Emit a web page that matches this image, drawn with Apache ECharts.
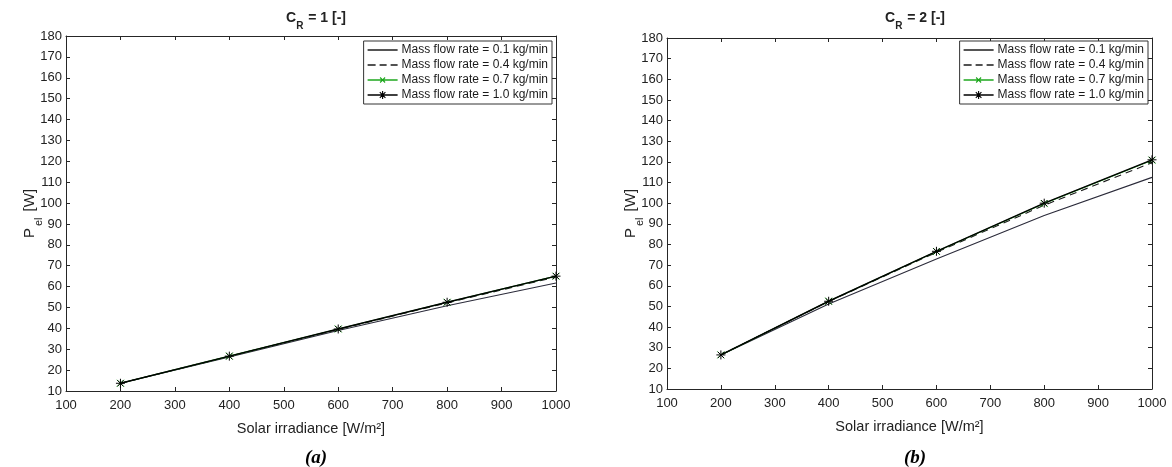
<!DOCTYPE html>
<html>
<head>
<meta charset="utf-8">
<script src="https://cdn.jsdelivr.net/npm/echarts@6/dist/echarts.min.js"></script>
<style>
html,body{margin:0;padding:0;background:#fff;}
#c{width:1172px;height:467px;}
</style>
</head>
<body>
<div id="c"></div>
<script>
// ---- data ----
const irradiance = [200, 400, 600, 800, 1000];
const seriesNames = ['Mass flow rate = 0.1 kg/min', 'Mass flow rate = 0.4 kg/min', 'Mass flow rate = 0.7 kg/min', 'Mass flow rate = 1.0 kg/min'];
// Panel (a): C_R = 1
const a_m01 = [13.7, 26.3, 39.0, 50.8, 61.7];
const a_m04 = [13.7, 26.6, 39.5, 52.2, 64.6];
const a_m07 = [13.7, 26.7, 39.7, 52.5, 65.0];
const a_m10 = [13.7, 26.7, 39.7, 52.5, 65.0];
// Panel (b): C_R = 2
const b_m01 = [26.5, 51.2, 73.0, 94.0, 112.5];
const b_m04 = [26.5, 52.4, 76.2, 99.0, 119.6];
const b_m07 = [26.5, 52.5, 76.6, 99.8, 120.8];
const b_m10 = [26.5, 52.5, 76.7, 100.0, 121.0];
const xTicks = [100, 200, 300, 400, 500, 600, 700, 800, 900, 1000];
const yTicks = [10, 20, 30, 40, 50, 60, 70, 80, 90, 100, 110, 120, 130, 140, 150, 160, 170, 180];

const FONT = '"Liberation Sans", Arial, sans-serif';
const AX = '#262626';
const STAR = 'path://M5,0L5,10M0,5L10,5M1.6,1.6L8.4,8.4M8.4,1.6L1.6,8.4';
const XMARK = 'path://M0,0L10,10M10,0L0,10';

// legend icons built from thin filled strokes inside a 30x10 box
function seg(x1, y1, x2, y2, t){
  const dx = x2 - x1, dy = y2 - y1, L = Math.hypot(dx, dy);
  const nx = -dy / L * t / 2, ny = dx / L * t / 2;
  return 'M' + (x1+nx).toFixed(2) + ',' + (y1+ny).toFixed(2) +
         'L' + (x2+nx).toFixed(2) + ',' + (y2+ny).toFixed(2) +
         'L' + (x2-nx).toFixed(2) + ',' + (y2-ny).toFixed(2) +
         'L' + (x1-nx).toFixed(2) + ',' + (y1-ny).toFixed(2) + 'Z';
}
const BOX = 'M0,0L0,0Z M30,10L30,10Z ';
const iconLine = 'path://' + BOX + seg(0, 5, 30, 5, 1.4);
const iconDash = 'path://' + BOX + seg(0, 5, 8, 5, 1.4) + seg(12, 5, 19, 5, 1.4) + seg(23, 5, 30, 5, 1.4);
const iconX = 'path://' + BOX + seg(0, 5, 30, 5, 1.4) + seg(12.5, 2.5, 17.5, 7.5, 1.1) + seg(17.5, 2.5, 12.5, 7.5, 1.1);
const iconStar = 'path://' + BOX + seg(0, 5, 30, 5, 1.5) + seg(15, 1, 15, 9, 1.1) + seg(11, 5, 19, 5, 1.1) + seg(12.2, 2.2, 17.8, 7.8, 1.1) + seg(17.8, 2.2, 12.2, 7.8, 1.1);

function pairs(ys){ return irradiance.map((x,i)=>[x, ys[i]]); }

const grids = [
  {left: 66, top: 36, right: 616, bottom: 76},
  {left: 667, top: 38, right: 20, bottom: 78}
];

const xAxes = [], yAxes = [];
grids.forEach((g, gi) => {
  const baseX = {
    type: 'value', gridIndex: gi, min: xTicks[0], max: xTicks[xTicks.length-1], interval: 100,
    axisLine: {show: true, lineStyle: {color: AX, width: 1}},
    axisTick: {show: true, inside: true, length: 4, lineStyle: {color: AX}},
    splitLine: {show: false}
  };
  const baseY = {
    type: 'value', gridIndex: gi, min: yTicks[0], max: yTicks[yTicks.length-1], interval: 10,
    axisLine: {show: true, lineStyle: {color: AX, width: 1}},
    axisTick: {show: true, inside: true, length: 4, lineStyle: {color: AX}},
    splitLine: {show: false}
  };
  xAxes.push(Object.assign({}, baseX, {
    position: 'bottom',
    axisLabel: {color: '#222', fontFamily: FONT, fontSize: 13, margin: 8, formatter: v => String(v)},
    name: 'Solar irradiance [W/m²]', nameLocation: 'middle', nameGap: 30,
    nameTextStyle: {color: '#222', fontFamily: FONT, fontSize: 14.5}
  }));
  xAxes.push(Object.assign({}, baseX, {position: 'top', axisLabel: {show: false}}));
  yAxes.push(Object.assign({}, baseY, {
    position: 'left',
    axisLabel: {color: '#222', fontFamily: FONT, fontSize: 13, margin: 4, formatter: v => String(v)},
    name: '{p|P}{s|el}{p| [W]}', nameLocation: 'middle', nameGap: 29, nameRotate: 90,
    nameMoveOverlap: false,
    nameTextStyle: {
      color: '#222', fontFamily: FONT, fontSize: 15,
      rich: {
        p: {fontFamily: FONT, fontSize: 15, color: '#222'},
        s: {fontFamily: FONT, fontSize: 11, color: '#222', verticalAlign: 'bottom', padding: [0, 2, -7, 2]}
      }
    }
  }));
  yAxes.push(Object.assign({}, baseY, {position: 'right', axisLabel: {show: false}}));
});

function mkSeries(gi, name, ys, opt){
  return Object.assign({
    type: 'line', name: name, xAxisIndex: gi*2, yAxisIndex: gi*2,
    data: pairs(ys), animation: false, showSymbol: true, z: 2
  }, opt);
}
const st01 = {symbol: 'none', lineStyle: {color: '#2b2b3a', width: 1.1, type: 'solid'}, itemStyle: {color: '#2b2b3a'}};
const st04 = {symbol: 'none', lineStyle: {color: '#1a1a1a', width: 1.1, type: [7, 5]}, itemStyle: {color: '#1a1a1a'}};
const st07 = {symbol: XMARK, symbolSize: 7, lineStyle: {color: '#1fa81f', width: 1.1}, itemStyle: {color: 'none', borderColor: '#1fa81f', borderWidth: 1}};
const st10 = {symbol: STAR, symbolSize: 9, lineStyle: {color: '#000', width: 1.4}, itemStyle: {color: 'none', borderColor: '#000', borderWidth: 1}};

const series = [
  mkSeries(0, seriesNames[0], a_m01, st01),
  mkSeries(0, seriesNames[1], a_m04, st04),
  mkSeries(0, seriesNames[2], a_m07, st07),
  mkSeries(0, seriesNames[3], a_m10, st10),
  mkSeries(1, seriesNames[0], b_m01, st01),
  mkSeries(1, seriesNames[1], b_m04, st04),
  mkSeries(1, seriesNames[2], b_m07, st07),
  mkSeries(1, seriesNames[3], b_m10, st10)
];

const legendIcons = [iconLine, iconDash, iconX, iconStar];
const legendColors = ['#1e1e1e', '#1a1a1a', '#1fa81f', '#000'];
function legend(right){
  return {
    data: seriesNames.map((n, i) => ({name: n, icon: legendIcons[i], itemStyle: {color: legendColors[i], borderWidth: 0}})),
    orient: 'vertical', right: right, top: 41,
    itemWidth: 30, itemHeight: 10, itemGap: 3,
    padding: [3, 4, 3, 4], borderColor: '#333', borderWidth: 1, backgroundColor: '#fff',
    textStyle: {fontFamily: FONT, fontSize: 12, color: '#1a1a1a', padding: [0, 0, 0, -1]},
    selectedMode: false, z: 10
  };
}

function titleRich(text, left){
  return {
    text: '{b|C}{s|R}{b| = ' + text + ' [-]}', left: left, top: 6, textAlign: 'center',
    textStyle: {
      rich: {
        b: {fontFamily: FONT, fontSize: 14, fontWeight: 'bold', color: '#222'},
        s: {fontFamily: FONT, fontSize: 10, fontWeight: 'bold', color: '#222', verticalAlign: 'bottom', padding: [0, 1, -6, 0]}
      }
    }
  };
}

const option = {
  backgroundColor: '#fff',
  animation: false,
  title: [
    titleRich('1', 311),
    titleRich('2', 910),
    {text: '(a)', left: 311, top: 444, textAlign: 'center', textStyle: {fontFamily: '"Liberation Serif", "Times New Roman", serif', fontSize: 19, fontWeight: 'bold', fontStyle: 'italic', color: '#000'}},
    {text: '(b)', left: 910, top: 444, textAlign: 'center', textStyle: {fontFamily: '"Liberation Serif", "Times New Roman", serif', fontSize: 19, fontWeight: 'bold', fontStyle: 'italic', color: '#000'}}
  ],
  legend: [legend(620), legend(24)],
  grid: grids,
  xAxis: xAxes,
  yAxis: yAxes,
  series: series
};

const chart = echarts.init(document.getElementById('c'), null, {renderer: 'canvas'});
chart.setOption(option);
</script>
</body>
</html>
